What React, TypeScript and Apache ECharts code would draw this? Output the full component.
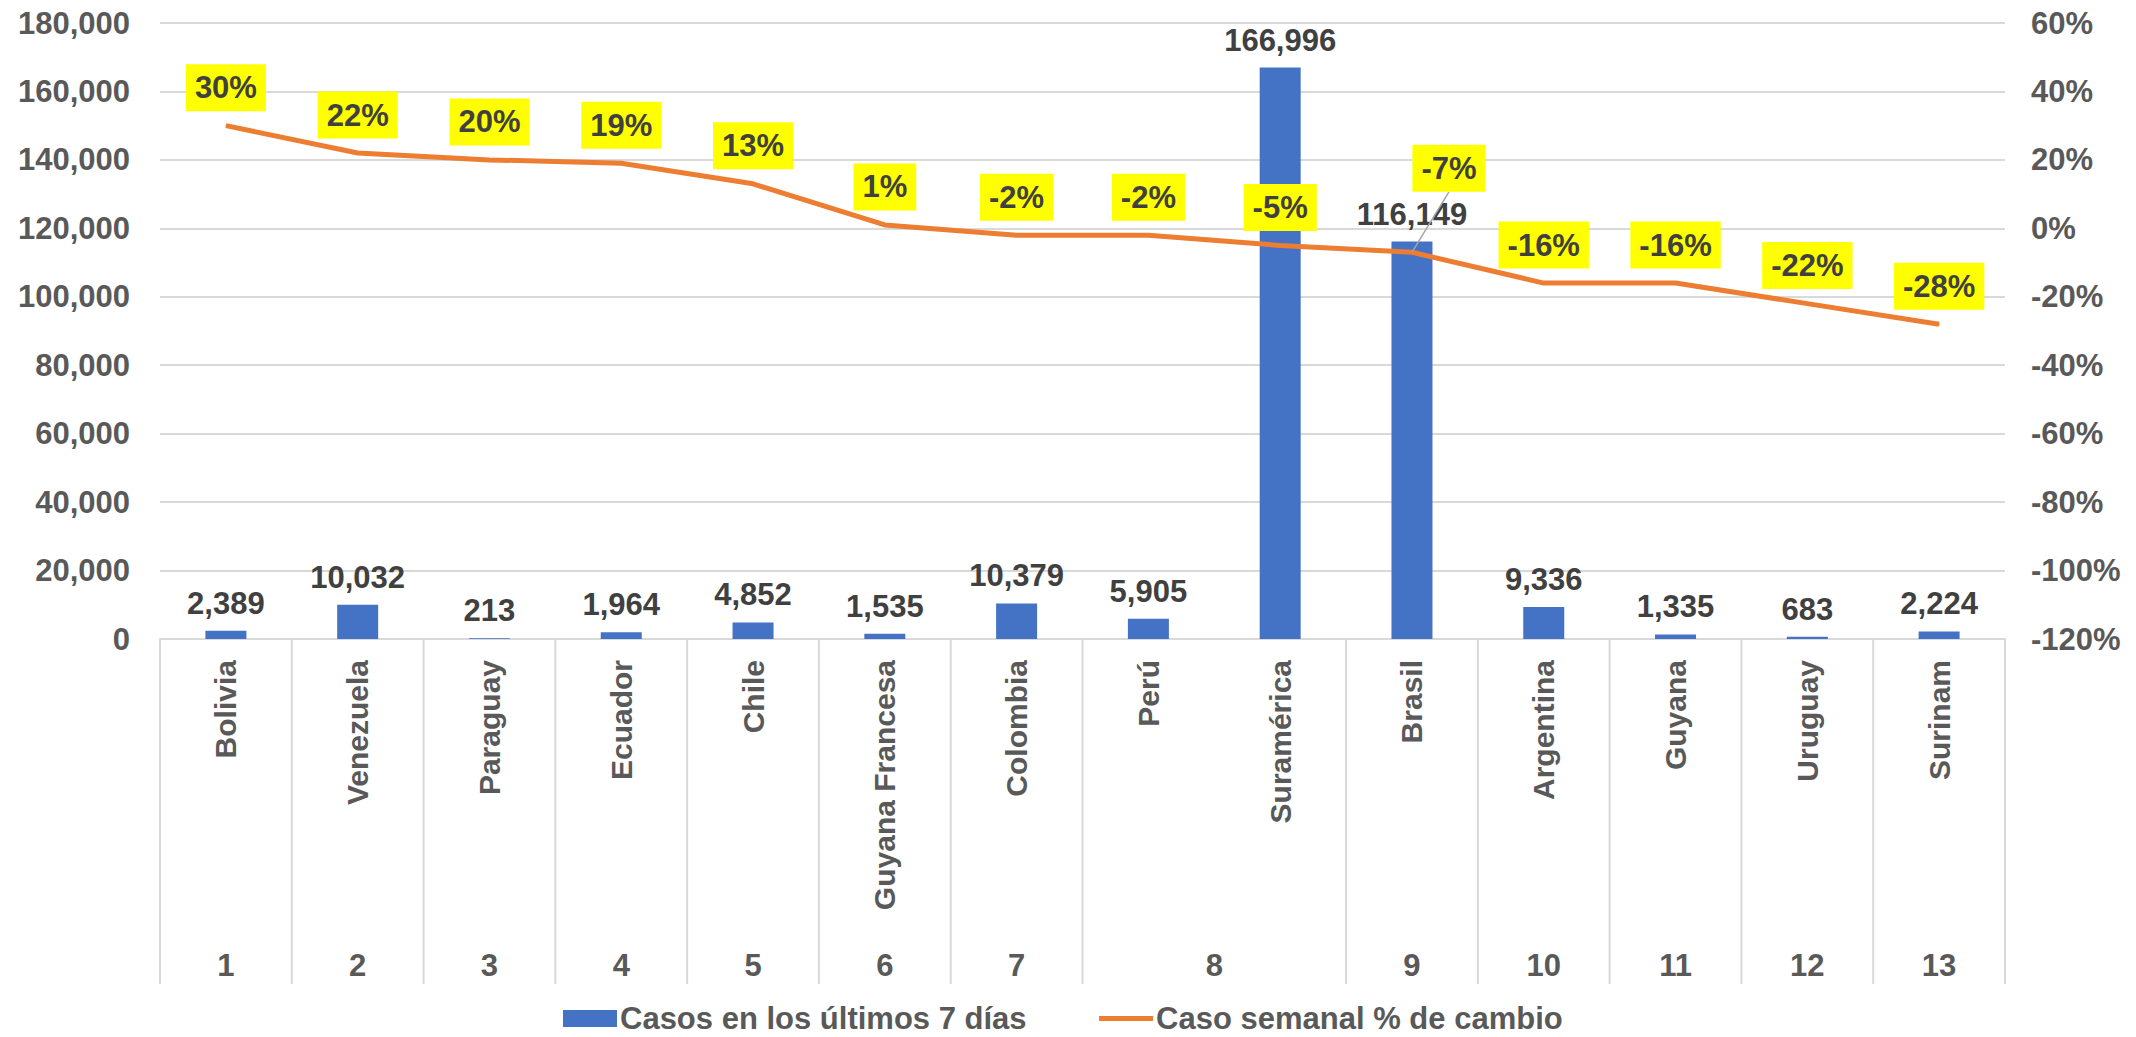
import React, { useEffect, useRef } from "react";
import * as echarts from "echarts";

const categories = [
  "Bolivia",
  "Venezuela",
  "Paraguay",
  "Ecuador",
  "Chile",
  "Guyana Francesa",
  "Colombia",
  "Perú",
  "Suramérica",
  "Brasil",
  "Argentina",
  "Guyana",
  "Uruguay",
  "Surinam",
];
const casos7dias = [2389, 10032, 213, 1964, 4852, 1535, 10379, 5905, 166996, 116149, 9336, 1335, 683, 2224];
const cambioSemanal = [30, 22, 20, 19, 13, 1, -2, -2, -5, -7, -16, -16, -22, -28];
const groupLabels = ["1", "2", "3", "4", "5", "6", "7", "8", "9", "10", "11", "12", "13"];
const groupCenters = [0.5, 1.5, 2.5, 3.5, 4.5, 5.5, 6.5, 8, 9.5, 10.5, 11.5, 12.5, 13.5];
const groupBounds = [0, 1, 2, 3, 4, 5, 6, 7, 9, 10, 11, 12, 13, 14];
const leftTicks = { min: 0, max: 180000, interval: 20000 };
const rightTicks = { min: -120, max: 60, interval: 20 };

const FONT = "'Liberation Sans', Arial, sans-serif";
const SEP_LENGTH = 345;

export default function App() {
  const ref = useRef<HTMLDivElement>(null);
  useEffect(() => {
    if (!ref.current) return;
    const chart = echarts.init(ref.current, null, { renderer: "svg" });
    const movedIndex = 9;
    const option: any = {
      animation: false,
      textStyle: { fontFamily: FONT },
      grid: { left: 160, right: 131, top: 23, bottom: 398, containLabel: false },
      legend: {
        left: 563,
        top: 1003,
        padding: 0,
        itemGap: 70,
        itemWidth: 54,
        itemHeight: 17,
        textStyle: {
          fontFamily: FONT,
          fontSize: 31,
          fontWeight: "bold",
          color: "#595959",
          lineHeight: 31,
          padding: [0, 0, 0, -2],
        },
        data: [
          { name: "Casos en los últimos 7 días", icon: "rect" },
          { name: "Caso semanal % de cambio", itemStyle: { opacity: 0 }, lineStyle: { width: 5, color: "#ED7D31" } },
        ],
      },
      xAxis: [
        {
          type: "category",
          data: categories,
          boundaryGap: true,
          axisLine: { show: true, lineStyle: { color: "#d9d9d9", width: 2 } },
          axisTick: { show: false },
          axisLabel: {
            rotate: 90,
            margin: 21,
            interval: 0,
            fontFamily: FONT,
            fontSize: 30,
            fontWeight: "bold",
            color: "#595959",
          },
          splitLine: { show: false },
        },
        {
          type: "value",
          position: "bottom",
          offset: SEP_LENGTH,
          min: 0,
          max: 14,
          axisLine: { show: false },
          splitLine: { show: false },
          axisTick: { show: false },
          axisLabel: {
            show: true,
            inside: true,
            margin: 3,
            customValues: groupCenters,
            formatter: (v: number) => {
              const i = groupCenters.indexOf(v);
              return i >= 0 ? groupLabels[i] : "";
            },
            fontFamily: FONT,
            fontSize: 31,
            fontWeight: "bold",
            color: "#595959",
          },
        },
      ],
      yAxis: [
        {
          type: "value",
          min: leftTicks.min,
          max: leftTicks.max,
          interval: leftTicks.interval,
          axisLine: { show: false },
          axisTick: { show: false },
          splitLine: { show: true, lineStyle: { color: "#d9d9d9", width: 2 } },
          axisLabel: {
            margin: 30,
            formatter: (v: number) => v.toLocaleString("en-US"),
            fontFamily: FONT,
            fontSize: 31,
            fontWeight: "bold",
            color: "#595959",
          },
        },
        {
          type: "value",
          min: rightTicks.min,
          max: rightTicks.max,
          interval: rightTicks.interval,
          axisLine: { show: false },
          axisTick: { show: false },
          splitLine: { show: false },
          axisLabel: {
            margin: 26,
            formatter: (v: number) => `${v}%`,
            fontFamily: FONT,
            fontSize: 31,
            fontWeight: "bold",
            color: "#595959",
          },
        },
      ],
      series: [
        {
          name: "separadores",
          type: "custom",
          xAxisIndex: 1,
          yAxisIndex: 0,
          silent: true,
          clip: false,
          data: groupBounds.map((b) => [b, 0]),
          renderItem: (params: any, api: any) => {
            const p = api.coord([api.value(0), 0]);
            return {
              type: "line",
              shape: { x1: p[0], y1: p[1], x2: p[0], y2: p[1] + SEP_LENGTH },
              style: { stroke: "#d9d9d9", lineWidth: 2 },
            };
          },
        },
        {
          name: "Casos en los últimos 7 días",
          type: "bar",
          xAxisIndex: 0,
          yAxisIndex: 0,
          data: casos7dias,
          barWidth: 41,
          itemStyle: { color: "#4472C4" },
          label: {
            show: true,
            position: "top",
            distance: 12,
            formatter: (p: any) => Number(p.value).toLocaleString("en-US"),
            fontFamily: FONT,
            fontSize: 31,
            fontWeight: "bold",
            color: "#404040",
          },
        },
        {
          name: "Caso semanal % de cambio",
          type: "line",
          xAxisIndex: 0,
          yAxisIndex: 1,
          symbol: "circle",
          symbolSize: 1,
          showSymbol: true,
          lineStyle: { color: "#ED7D31", width: 5 },
          itemStyle: { color: "#ED7D31" },
          data: cambioSemanal.map((v, i) =>
            i === movedIndex
              ? { value: v, labelLine: { show: true, lineStyle: { color: "#a6a6a6", width: 1.5 } } }
              : v
          ),
          labelLine: { show: false },
          labelLayout: (p: any) => (p.dataIndex === movedIndex ? { dx: 37, dy: -46 } : {}),
          label: {
            show: true,
            position: "top",
            distance: 14,
            formatter: (p: any) => `${p.value}%`,
            backgroundColor: "#FFFF00",
            padding: [8, 9, 8, 9],
            lineHeight: 31,
            fontFamily: FONT,
            fontSize: 31,
            fontWeight: "bold",
            color: "#404040",
          },
        },
      ],
    };
    chart.setOption(option);
    return () => chart.dispose();
  }, []);
  return <div ref={ref} style={{ position: "absolute", left: 0, top: 0, width: 2136, height: 1037 }} />;
}
